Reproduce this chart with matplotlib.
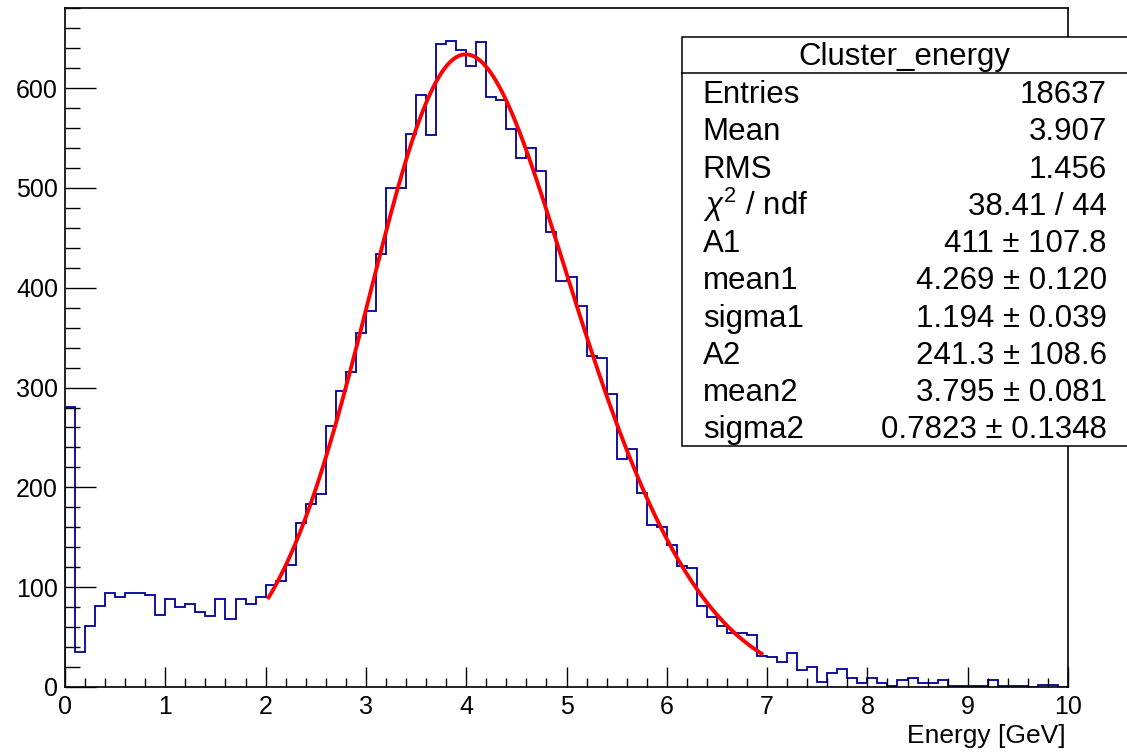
import numpy as np
import matplotlib.pyplot as plt
from matplotlib.patches import Rectangle
from matplotlib.lines import Line2D

plt.rcParams['font.family'] = ['Liberation Sans', 'DejaVu Sans']
plt.rcParams['mathtext.fontset'] = 'custom'
plt.rcParams['mathtext.rm'] = 'Liberation Sans'
plt.rcParams['mathtext.it'] = 'Liberation Sans:italic'

# histogram, 100 bins of 0.1 GeV from 0 to 10
bin_lo, bin_hi, n_bins = 0.0, 10.0, 100
counts = [281, 35, 61, 81, 94, 90, 94, 94, 92, 72,
          88, 80, 83, 75, 71, 88, 68, 88, 83, 90,
          102, 106, 122, 164, 183, 193, 261, 297, 316, 355,
          377, 434, 500, 500, 554, 593, 553, 644, 647, 638,
          622, 646, 591, 588, 559, 530, 540, 517, 456, 407,
          411, 382, 332, 330, 294, 228, 238, 194, 162, 160,
          142, 121, 119, 81, 70, 61, 54, 54, 52, 31,
          30, 25, 34, 17, 20, 5, 14, 18, 9, 4,
          9, 4, 1, 7, 9, 4, 4, 7, 1, 1,
          1, 1, 7, 1, 1, 1, 0, 2, 2, 0]

# fit parameters (double gaussian)
A1, mean1, sigma1 = 411.0, 4.269, 1.194
A2, mean2, sigma2 = 241.3, 3.795, 0.7823
fit_lo, fit_hi = 2.02, 6.96

# stats box
stats_title = "Cluster_energy"
stats_names = ["Entries", "Mean", "RMS", r"$\chi^{2}$ / ndf", "A1", "mean1",
               "sigma1", "A2", "mean2", "sigma2"]
stats_values = ["18637", "3.907", "1.456", "38.41 / 44", "411 ± 107.8",
                "4.269 ± 0.120", "1.194 ± 0.039", "241.3 ± 108.6",
                "3.795 ± 0.081", "0.7823 ± 0.1348"]

W, H = 1127, 753
fig = plt.figure(figsize=(W / 100, H / 100), dpi=100)
ax = fig.add_axes([65 / W, 1 - 687 / H, (1068 - 65) / W, (687 - 8.3) / H])

edges = np.linspace(bin_lo, bin_hi, n_bins + 1)
ax.stairs(counts, edges, color='#000099', lw=1.3)

xf = np.linspace(fit_lo, fit_hi, 400)
yf = (A1 * np.exp(-0.5 * ((xf - mean1) / sigma1) ** 2)
      + A2 * np.exp(-0.5 * ((xf - mean2) / sigma2) ** 2))
ax.plot(xf, yf, color='red', lw=2.8, solid_capstyle='butt')

ax.set_xlim(0, 10)
ax.set_ylim(0, 680)
ax.set_xticks(range(0, 11))
ax.set_xticks(np.arange(0, 10.01, 0.2), minor=True)
ax.set_yticks(range(0, 601, 100))
ax.set_yticks(range(0, 681, 20), minor=True)
ax.tick_params(axis='both', which='both', direction='in', width=1.0,
               colors='black', labelsize=18)
ax.tick_params(axis='y', which='major', length=22.3, pad=5)
ax.tick_params(axis='y', which='minor', length=10.8)
ax.tick_params(axis='x', which='major', length=14.4, pad=6)
ax.tick_params(axis='x', which='minor', length=6.8)
for s in ax.spines.values():
    s.set_linewidth(1.2)

fig.text(1066 / W, 1 - 743 / H, "Energy [GeV]", ha='right', va='baseline',
         fontsize=19)

# stats box
bx0, by_top, by_bot, sep = 681.7, 36.7, 446.0, 72.7
fig.add_artist(Rectangle((bx0 / W, 1 - by_bot / H), (1140 - bx0) / W,
                         (by_bot - by_top) / H, transform=fig.transFigure,
                         facecolor='white', edgecolor='black', lw=1.1,
                         clip_on=False, zorder=5))
fig.add_artist(Line2D([bx0 / W, 1.01], [1 - sep / H, 1 - sep / H],
                      transform=fig.transFigure, color='black', lw=1.1,
                      zorder=6))
fig.text(904 / W, 1 - 65 / H, stats_title, ha='center', va='baseline',
         fontsize=22.5, zorder=7)
for i, (name, val) in enumerate(zip(stats_names, stats_values)):
    yb = 1 - (103.3 + 37.2 * i) / H
    fig.text(702.7 / W, yb, name, ha='left', va='baseline', fontsize=22.5,
             zorder=7)
    fig.text(1106.7 / W, yb, val, ha='right', va='baseline', fontsize=22.5,
             zorder=7)

fig.savefig('out.png', dpi=100)
